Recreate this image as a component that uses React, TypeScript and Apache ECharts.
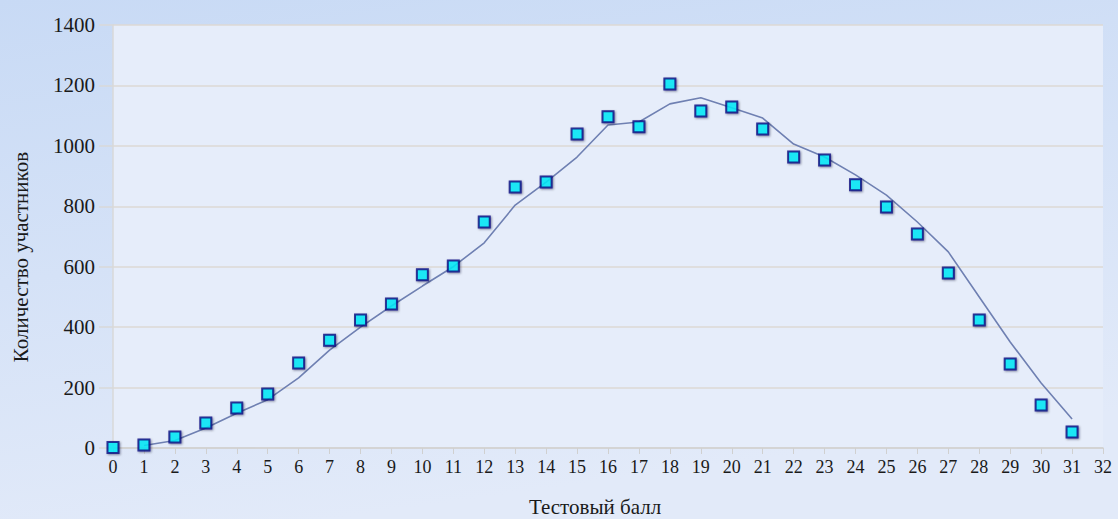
import React, { useEffect, useRef } from "react";
import * as echarts from "echarts";

const scores = [0, 1, 2, 3, 4, 5, 6, 7, 8, 9, 10, 11, 12, 13, 14, 15, 16, 17, 18, 19, 20, 21, 22, 23, 24, 25, 26, 27, 28, 29, 30, 31];
const participants = [2, 10, 36, 83, 132, 179, 281, 357, 424, 477, 573, 602, 748, 864, 880, 1039, 1096, 1063, 1205, 1115, 1129, 1056, 963, 953, 871, 798, 708, 579, 424, 278, 142, 53];
const trendScores = [1, 2, 3, 4, 5, 6, 7, 8, 9, 10, 11, 12, 13, 14, 15, 16, 17, 18, 19, 20, 21, 22, 23, 24, 25, 26, 27, 28, 29, 30, 31];
const trendValues = [8, 25, 66, 115, 160, 232, 324, 400, 470, 536, 600, 679, 804, 880, 963, 1069, 1079, 1139, 1159, 1126, 1092, 1006, 963, 904, 837, 748, 649, 500, 351, 215, 96];
const xName = "Тестовый балл";
const yName = "Количество участников";

export default function App() {
  const ref = useRef<HTMLDivElement>(null);
  useEffect(() => {
    if (!ref.current) return;
    const chart = echarts.init(ref.current, undefined, { renderer: "svg" });
    const serif = "'Liberation Serif', 'Times New Roman', serif";
    chart.setOption({
      animation: false,
      backgroundColor: {
        type: "linear", x: 0, y: 0, x2: 0.3, y2: 1,
        colorStops: [
          { offset: 0, color: "#c8daf5" },
          { offset: 1, color: "#e2eaf9" },
        ],
      },
      grid: {
        left: 113, top: 25, width: 990, height: 423,
        show: true, backgroundColor: "#e6edfa", borderWidth: 0,
      },
      xAxis: {
        type: "value", min: 0, max: 32, interval: 1,
        axisLine: { show: true, lineStyle: { color: "#d0d0d0", width: 1.5 } },
        axisTick: { show: true, length: 6, lineStyle: { color: "#d0d0d0" } },
        axisLabel: { color: "#1a1a1a", fontFamily: serif, fontSize: 18, margin: 10, formatter: (v: number) => String(v) },
        splitLine: { show: false },
      },
      yAxis: {
        type: "value", min: 0, max: 1400, interval: 200,
        axisLine: { show: true, lineStyle: { color: "#d8d8d8", width: 1.5 } },
        axisTick: { show: true, length: 14, lineStyle: { color: "#d8d8d8", width: 1.5 } },
        axisLabel: { color: "#1a1a1a", fontFamily: serif, fontSize: 21, margin: 18, formatter: (v: number) => String(v) },
        splitLine: { show: true, lineStyle: { color: "#dcd9d4", width: 1.5 } },
      },
      graphic: [
        {
          type: "text", x: 21, y: 257, rotation: Math.PI / 2,
          style: { text: yName, font: `21px ${serif}`, fill: "#1a1a1a", textAlign: "center", textVerticalAlign: "middle" },
        },
        {
          type: "text", x: 595, y: 507,
          style: { text: xName, font: `21px ${serif}`, fill: "#1a1a1a", textAlign: "center", textVerticalAlign: "middle" },
        },
      ],
      series: [
        {
          type: "line",
          data: trendScores.map((s, i) => [s, trendValues[i]]),
          showSymbol: false,
          symbol: "none",
          lineStyle: { color: "#6f80b2", width: 1.6 },
          z: 2,
        },
        {
          type: "scatter",
          data: scores.map((s, i) => [s, participants[i]]),
          symbol: "rect",
          symbolSize: 11,
          itemStyle: {
            color: "#00f0ff",
            borderColor: "#0a0a80",
            borderWidth: 2,
            shadowColor: "rgba(0,0,40,0.5)",
            shadowBlur: 2,
            shadowOffsetX: 1,
            shadowOffsetY: 1,
          },
          z: 3,
        },
      ],
    });
    return () => chart.dispose();
  }, []);
  return <div ref={ref} style={{ position: "fixed", left: 0, top: 0, width: 1118, height: 519 }} />;
}
